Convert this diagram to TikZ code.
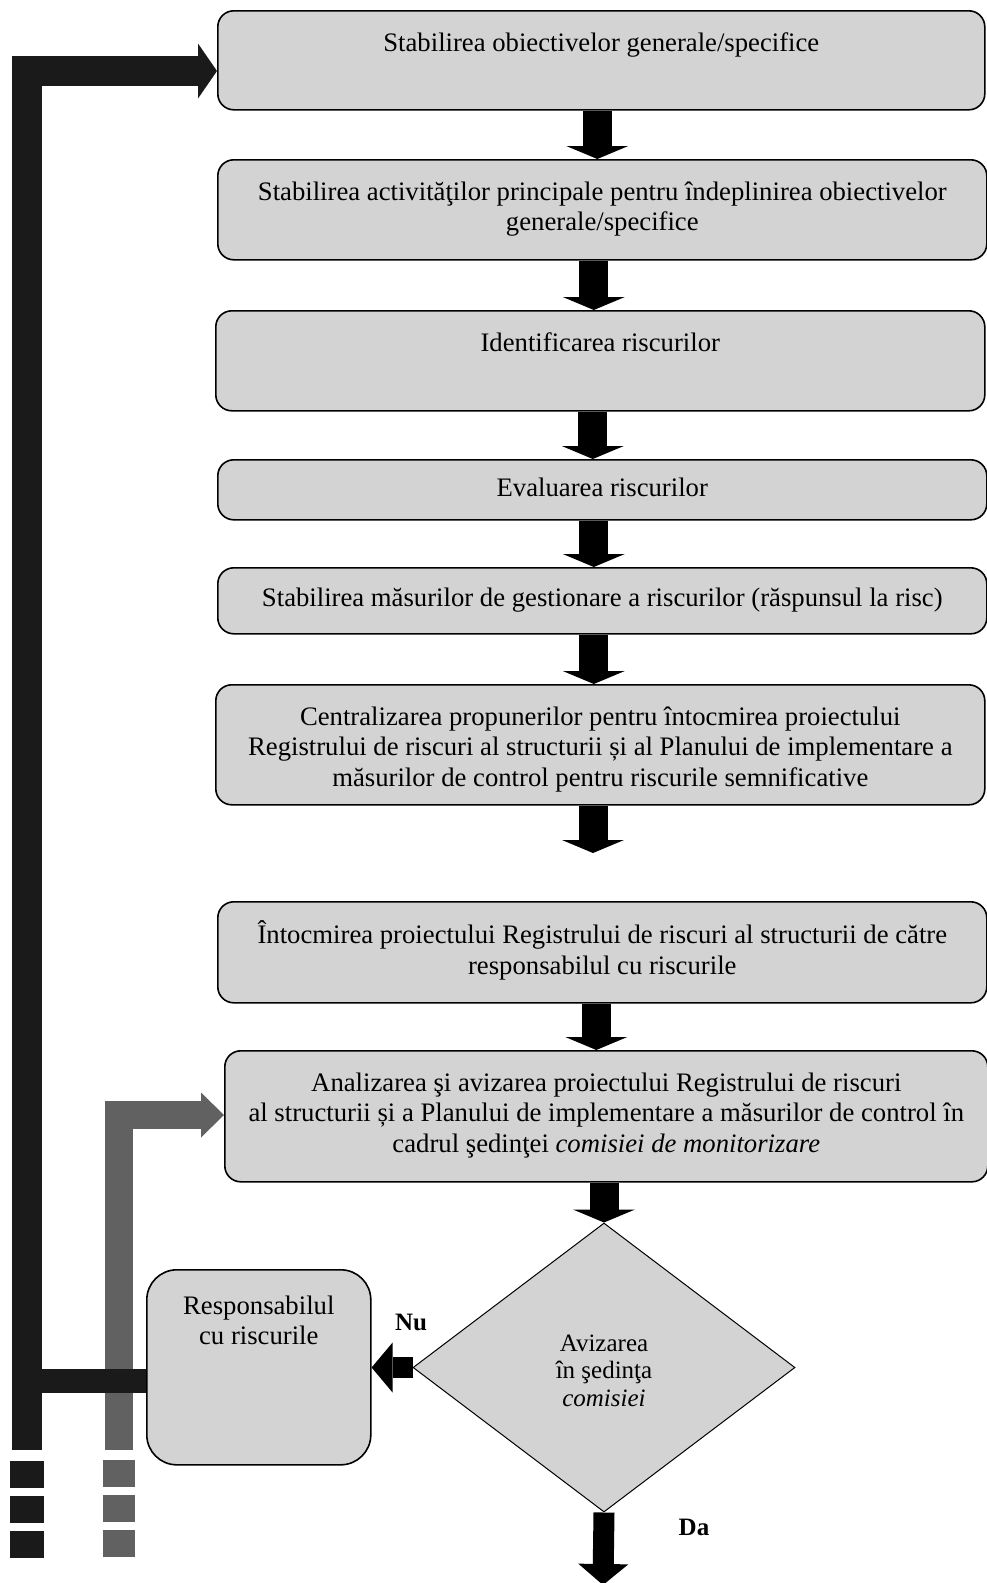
\documentclass[tikz,border=0pt]{standalone}
\usepackage{fontspec}
\setmainfont{Liberation Serif}
\usetikzlibrary{arrows.meta,positioning,calc,shapes.geometric}
\definecolor{boxgray}{HTML}{D3D3D3}
\definecolor{darkline}{HTML}{1A1A1A}
\definecolor{midgray}{HTML}{616161}

\begin{document}
\begin{tikzpicture}[x=1pt,y=-1pt,semithick]
	\tikzset{stage/.style = {draw,line width=1.6pt,fill=boxgray,rounded corners=16pt,inner sep=0pt,anchor=north west,font=\fontsize{26.7}{30.5}\selectfont}}
	\tikzset{decision/.style = {diamond,draw,line width=1pt,fill=boxgray,inner sep=0pt,aspect=1.32,minimum width=382pt,minimum height=289pt,align=center,font=\fontsize{25}{27.5}\selectfont}}
	\tikzset{flow/.style = {line width=29pt,-{Triangle[width=62pt,length=13pt,line width=0pt]}}}
	\tikzset{branch/.style = {line width=21pt,-{Triangle[width=50pt,length=21pt,line width=0pt]}}}
	\tikzset{loopback/.style = {draw=darkline,line width=30pt}}
	\tikzset{revise/.style = {draw=midgray,line width=28pt}}
	\useasboundingbox (0,0) rectangle (987,1583);
	% vertices
	\node[stage] (obj) at (217,10) {\parbox[c][99pt][t]{767pt}{\centering\vspace*{19pt}\strut Stabilirea obiectivelor generale/specifice}};
	\node[stage] (act) at (217,159) {\parbox[c][100pt][t]{769pt}{\centering\vspace*{19pt}\strut Stabilirea activităţilor principale pentru îndeplinirea obiectivelor\\ generale/specifice}};
	\node[stage] (ident) at (215,310) {\parbox[c][100pt][t]{769pt}{\centering\vspace*{19pt}\strut Identificarea riscurilor}};
	\node[stage] (eval) at (217,459) {\parbox[c][60pt][t]{769pt}{\centering\vspace*{15pt}\strut Evaluarea riscurilor}};
	\node[stage] (mas) at (217,567) {\parbox[c][66pt][t]{769pt}{\centering\vspace*{17pt}\strut Stabilirea măsurilor de gestionare a riscurilor (răspunsul la risc)}};
	\node[stage] (cent) at (215,684) {\parbox[c][120pt][t]{769pt}{\centering\vspace*{19pt}\strut Centralizarea propunerilor pentru întocmirea proiectului\\ Registrului de riscuri al structurii și al Planului de implementare a\\ măsurilor de control pentru riscurile semnificative}};
	\node[stage] (intoc) at (217,901) {\parbox[c][101pt][t]{769pt}{\centering\vspace*{19pt}\strut Întocmirea proiectului Registrului de riscuri al structurii de către\\ responsabilul cu riscurile}};
	\node[stage] (anal) at (224,1050) {\parbox[c][131pt][t]{763pt}{\centering\vspace*{19pt}\strut Analizarea şi avizarea proiectului Registrului de riscuri\\ al structurii și a Planului de implementare a măsurilor de control în\\ cadrul şedinţei \textit{comisiei de monitorizare}}};
	\node[decision] (dec) at (604,1367.5) {\raisebox{-3pt}[\height][\depth]{\parbox{120pt}{\centering Avizarea\\ în şedinţa\\ \textit{comisiei}}}};
	\node[stage,rounded corners=30pt] (resp) at (146,1269) {\parbox[c][195pt][t]{224pt}{\centering\vspace*{23pt}\strut Responsabilul\\ cu riscurile}};
	\node[font=\fontsize{25}{28}\selectfont\bfseries] (nu) at (411,1322) {Nu};
	\node[font=\fontsize{25}{28}\selectfont\bfseries] (da) at (694,1527) {Da};
	\coordinate (centend) at (593,853);
	\coordinate (daend) at (603,1585);
	\coordinate (blk1) at (27,1450);
	\coordinate (gry1) at (119,1450);
	%edges
	\draw[flow] ([xshift=-4pt]obj.south) -- ([xshift=-4pt]obj.south |- act.north);
	\draw[flow] ([xshift=-8.5pt]act.south) -- ([xshift=-8.5pt]act.south |- ident.north);
	\draw[flow] ([xshift=-7.5pt]ident.south) -- ([xshift=-7.5pt]ident.south |- eval.north);
	\draw[flow] ([xshift=-8.5pt]eval.south) -- ([xshift=-8.5pt]eval.south |- mas.north);
	\draw[flow] ([xshift=-8.5pt]mas.south) -- ([xshift=-8.5pt]mas.south |- cent.north);
	\draw[flow] (centend |- cent.south) -- (centend);
	\draw[flow] ([xshift=-6pt]intoc.south) -- ([xshift=-6pt]intoc.south |- anal.north);
	\draw[flow] (dec.north |- anal.south) -- (dec.north);
	\draw[branch] (dec.south) -- (daend);
	\draw[branch] (dec.west) -- (dec.west -| resp.east);
	% feedback lines
	\draw[revise,-{Triangle[width=45pt,length=23pt,line width=0pt]}] (gry1) |- ([yshift=-65pt]anal.north west);
	\draw[revise,line width=32pt,dash pattern=on 27pt off 8pt] ([yshift=-10pt]gry1) -- ([yshift=-107pt]gry1);
	\draw[loopback,-{Triangle[width=55pt,length=19pt,line width=0pt]}] (blk1) |- ([yshift=-61pt]obj.north west);
	\draw[loopback,line width=34pt,dash pattern=on 27pt off 8pt] ([yshift=-11pt]blk1) -- ([yshift=-109pt]blk1);
	\draw[loopback,line width=24pt] ([yshift=-13.5pt]resp.west) -- ([yshift=-13.5pt]resp.west -| blk1);
\end{tikzpicture}
\end{document}
